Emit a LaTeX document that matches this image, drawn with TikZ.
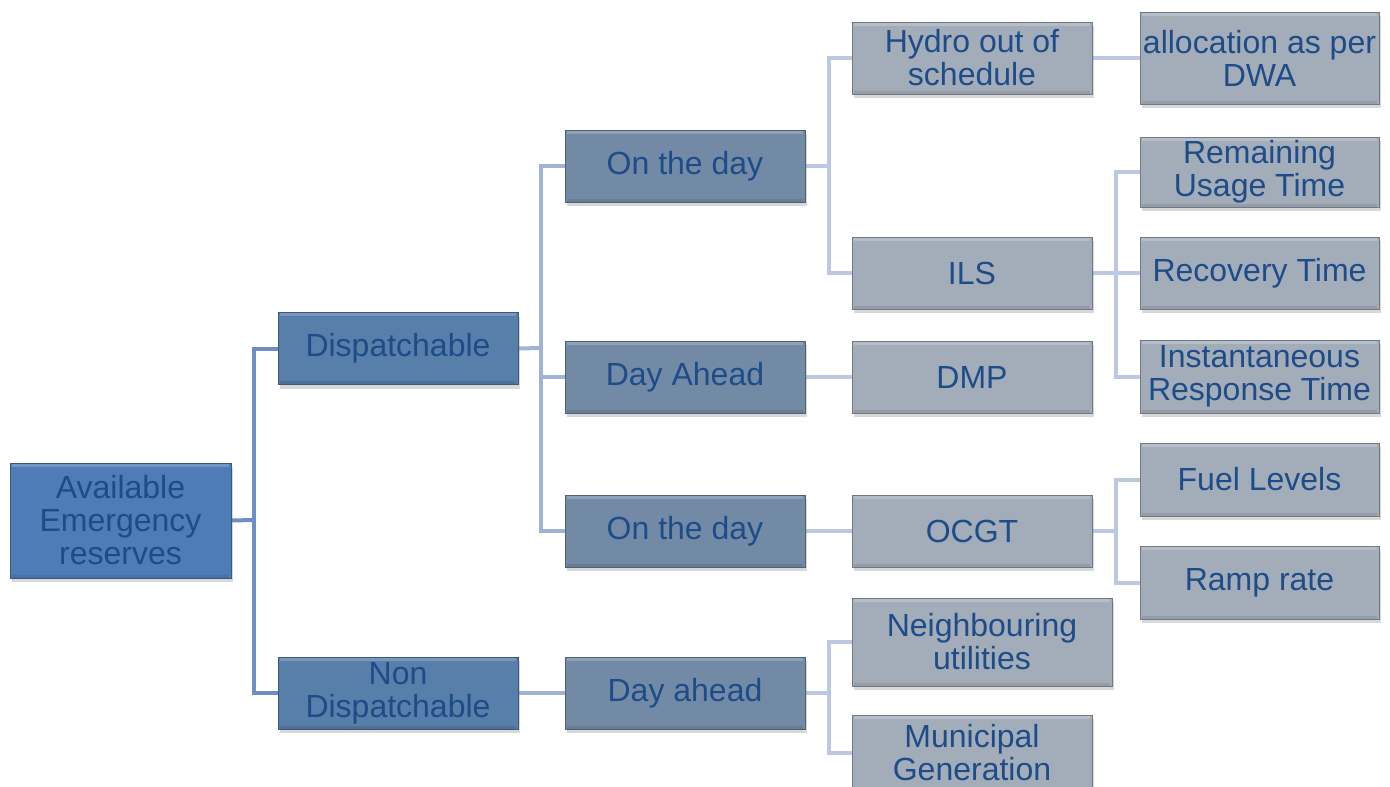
\documentclass[tikz,border=0pt]{standalone}
\usepackage{fontspec}
\setmainfont{Liberation Sans}
\usetikzlibrary{shadows,backgrounds}
\definecolor{txt}{HTML}{1E4C88}
\definecolor{rootfill}{HTML}{4F7CB6}
\definecolor{lvlAfill}{HTML}{587EAA}
\definecolor{lvlBfill}{HTML}{728AA6}
\definecolor{lvlCfill}{HTML}{A3ADBA}
\definecolor{linkA}{HTML}{6E8EC8}
\definecolor{linkB}{HTML}{9FB3D9}
\definecolor{linkC}{HTML}{BCC8E2}
\tikzset{
  box/.style={rectangle, draw=#1!70!black, line width=0.8pt, fill=#1,
    minimum height=72pt, align=center, inner sep=2pt, text=txt,
    font=\fontsize{32}{33}\selectfont,
    drop shadow={shadow xshift=2pt, shadow yshift=-4pt, opacity=0.3},
    path picture={\draw[#1!80!white, line width=3pt]
      ([xshift=2pt,yshift=-2pt]path picture bounding box.north west) --
      ([xshift=-2pt,yshift=-2pt]path picture bounding box.north east);
      \draw[#1!90!black, line width=3pt]
      ([xshift=2pt,yshift=2pt]path picture bounding box.south west) --
      ([xshift=-2pt,yshift=2pt]path picture bounding box.south east);}},
  rootbox/.style={box=rootfill, minimum width=221pt, minimum height=115pt},
  abox/.style={box=lvlAfill, minimum width=240pt},
  bbox/.style={box=lvlBfill, minimum width=240pt},
  cbox/.style={box=lvlCfill, minimum width=240pt},
  la/.style={draw=linkA, line width=4pt},
  lb/.style={draw=linkB, line width=4pt},
  lc/.style={draw=linkC, line width=4pt},
}
\begin{document}
\begin{tikzpicture}[x=1pt,y=-1pt]
\useasboundingbox (0,0) rectangle (1390,787);
\coordinate (t0) at (254,520);
\coordinate (t1) at (541,348);
\coordinate (t2) at (829,166);
\coordinate (t3) at (1116,273);
\coordinate (t4) at (1116,531);
\coordinate (t5) at (829,693);

% nodes
\node[rootbox] (root) at (120.5,520.5) {Available\\Emergency\\reserves};
\node[abox] (disp) at (398,348.5) {Dispatchable};
\node[abox] (ndisp) at (398,693) {Non\\Dispatchable};
\node[bbox] (otd1) at (685,166) {On the day};
\node[bbox] (dah) at (685,377) {Day Ahead};
\node[bbox] (otd2) at (685,531) {On the day};
\node[bbox] (dah2) at (685,693) {Day ahead};
\node[cbox] (hydro) at (972,58) {Hydro out of\\schedule};
\node[cbox] (ils) at (972,273) {ILS};
\node[cbox] (dmp) at (972,377) {DMP};
\node[cbox] (ocgt) at (972,531) {OCGT};
\node[cbox, minimum width=260pt, minimum height=88pt] (neigh) at (982,642) {Neighbouring\\utilities};
\node[cbox, minimum height=76pt] (muni) at (972,753) {Municipal\\Generation};
\node[cbox, minimum width=239pt, minimum height=92pt] (alloc) at (1259.5,58) {allocation as per\\DWA};
\node[cbox, minimum width=239pt, minimum height=70pt] (remain) at (1259.5,172) {Remaining\\Usage Time};
\node[cbox, minimum width=239pt] (recov) at (1259.5,273) {Recovery Time};
\node[cbox, minimum width=239pt, minimum height=73pt] (inst) at (1259.5,376.5) {Instantaneous\\Response Time};
\node[cbox, minimum width=239pt, minimum height=73pt] (fuel) at (1259.5,479.5) {Fuel Levels};
\node[cbox, minimum width=239pt, minimum height=73pt] (ramp) at (1259.5,582.5) {Ramp rate};

\begin{scope}[on background layer]
\fill[white] (0,0) rectangle (1390,787);
% root
\path[la] (root.east) -- (t0);
\path[la] (disp.west) -- (disp.west -| t0) -- (ndisp.west -| t0) -- (ndisp.west);
% dispatchable
\path[lb] (disp.east) -- (t1);
\path[lb] (otd1.west) -- (otd1.west -| t1) -- (otd2.west -| t1) -- (otd2.west);
\path[lb] (dah.west -| t1) -- (dah.west);
\path[lb] (ndisp.east) -- (dah2.west);
% level 2
\path[lc] (otd1.east) -- (otd1.east -| t2);
\path[lc] (hydro.west) -- (hydro.west -| t2) -- (ils.west -| t2) -- (ils.west);
\path[lc] (dah.east) -- (dmp.west);
\path[lc] (otd2.east) -- (ocgt.west);
\path[lc] (dah2.east) -- (dah2.east -| t5);
\path[lc] (neigh.west) -- (neigh.west -| t5) -- (muni.west -| t5) -- (muni.west);
% level 3
\path[lc] (hydro.east) -- (alloc.west);
\path[lc] (ils.east) -- (t3);
\path[lc] (remain.west) -- (remain.west -| t3) -- (inst.west -| t3) -- (inst.west);
\path[lc] (recov.west -| t3) -- (recov.west);
\path[lc] (ocgt.east) -- (t4);
\path[lc] (fuel.west) -- (fuel.west -| t4) -- (ramp.west -| t4) -- (ramp.west);
\end{scope}
\end{tikzpicture}
\end{document}
